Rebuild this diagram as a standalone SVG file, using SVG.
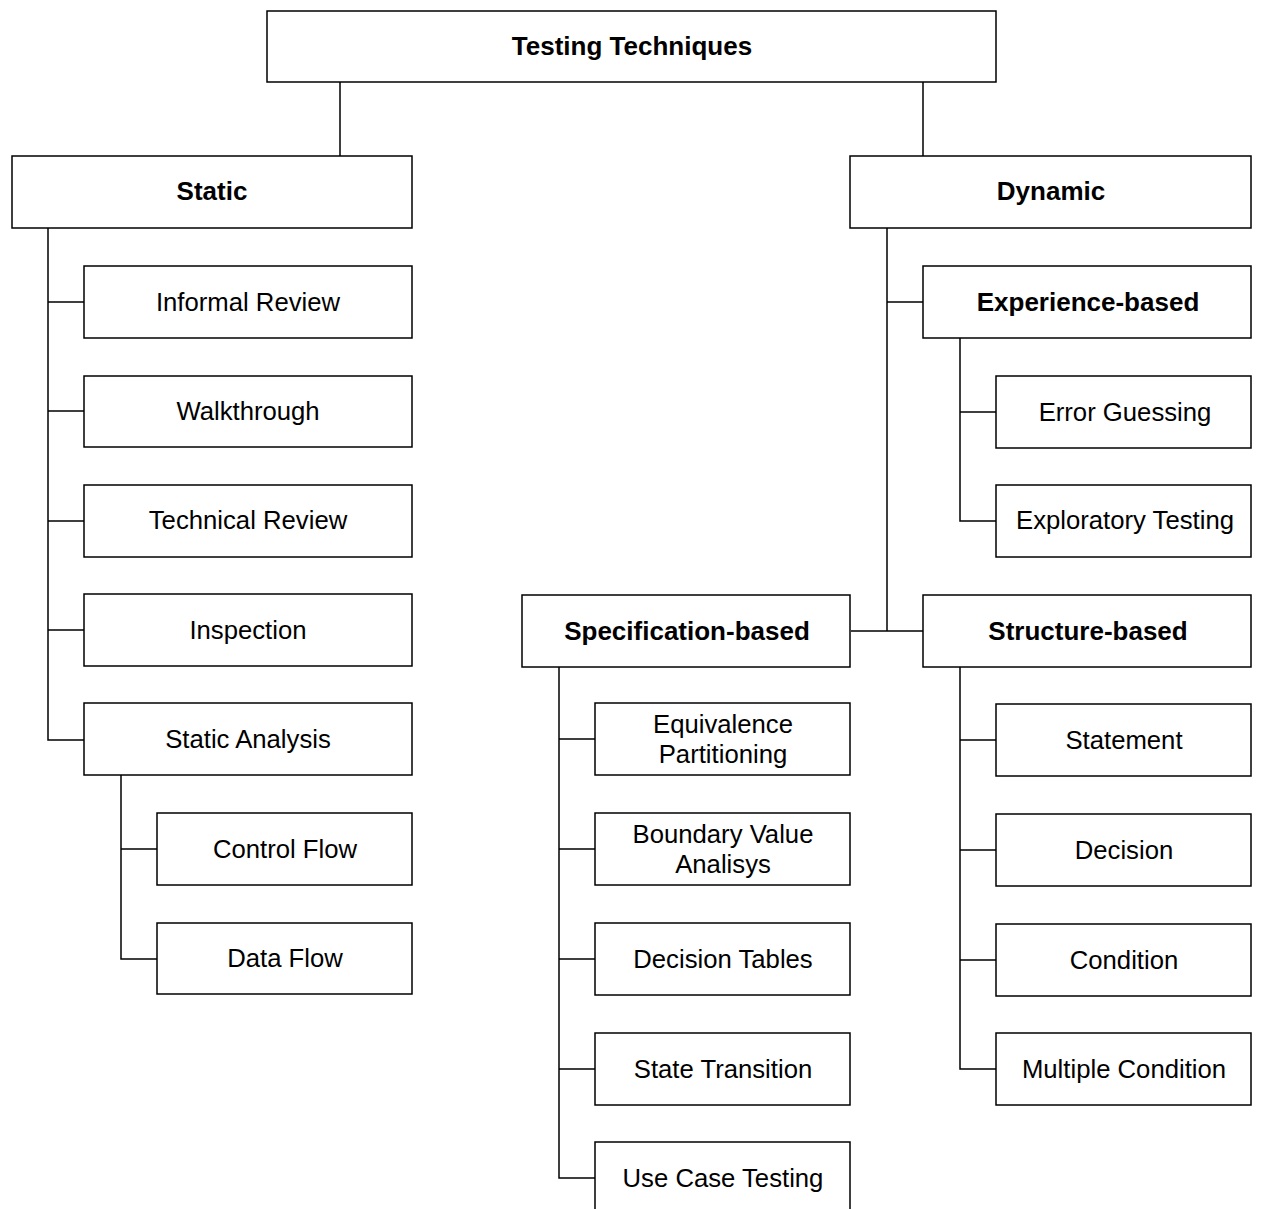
<svg xmlns="http://www.w3.org/2000/svg" width="1261" height="1209" viewBox="0 0 1261 1209">
<style>
rect{fill:#fff;stroke:#000;stroke-width:1.5}
text{font-family:"Liberation Sans",Arial,sans-serif;font-size:25.7px;fill:#000;text-anchor:middle;dominant-baseline:central}
.b{font-weight:bold;font-size:26px}
#connectors path{fill:none;stroke:#000;stroke-width:1.5}
</style>
<rect x="0" y="0" width="1261" height="1209" style="stroke:none"/>
<g id="connectors">
<path d="M340 82V156M923 82V156"/>
<path d="M48 228V740H84M48 302H84M48 411H84M48 521H84M48 630H84"/>
<path d="M121 775V959H157M121 849H157"/>
<path d="M887 228V631M887 302H923M851 631H923"/>
<path d="M960 338V521H996M960 412H996"/>
<path d="M559 667V1178H595M559 739H595M559 849H595M559 959H595M559 1069H595"/>
<path d="M960 667V1069H996M960 740H996M960 850H996M960 960H996"/>
</g>
<g id="n-root"><rect x="267" y="11" width="729" height="71"/><text class="b" x="632" y="45.5">Testing Techniques</text></g>
<g id="n-static"><rect x="12" y="156" width="400" height="72"/><text class="b" x="212" y="190.5">Static</text></g>
<g id="n-dynamic"><rect x="850" y="156" width="401" height="72"/><text class="b" x="1051" y="190.5">Dynamic</text></g>
<g id="n-informal"><rect x="84" y="266" width="328" height="72"/><text x="248" y="301.5">Informal Review</text></g>
<g id="n-walk"><rect x="84" y="376" width="328" height="71"/><text x="248" y="410.5">Walkthrough</text></g>
<g id="n-tech"><rect x="84" y="485" width="328" height="72"/><text x="248" y="519.5">Technical Review</text></g>
<g id="n-insp"><rect x="84" y="594" width="328" height="72"/><text x="248" y="629.5">Inspection</text></g>
<g id="n-sa"><rect x="84" y="703" width="328" height="72"/><text x="248" y="738.5">Static Analysis</text></g>
<g id="n-cf"><rect x="157" y="813" width="255" height="72"/><text x="285" y="848.5">Control Flow</text></g>
<g id="n-df"><rect x="157" y="923" width="255" height="71"/><text x="285" y="957.5">Data Flow</text></g>
<g id="n-exp"><rect x="923" y="266" width="328" height="72"/><text class="b" x="1088" y="301.5">Experience-based</text></g>
<g id="n-err"><rect x="996" y="376" width="255" height="72"/><text x="1125" y="411.5">Error Guessing</text></g>
<g id="n-explo"><rect x="996" y="485" width="255" height="72"/><text x="1125" y="519.5">Exploratory Testing</text></g>
<g id="n-spec"><rect x="522" y="595" width="328" height="72"/><text class="b" x="687" y="630.5">Specification-based</text></g>
<g id="n-struct"><rect x="923" y="595" width="328" height="72"/><text class="b" x="1088" y="630.5">Structure-based</text></g>
<g id="n-eq"><rect x="595" y="703" width="255" height="72"/><text x="723" y="723.5">Equivalence</text><text x="723" y="753.5">Partitioning</text></g>
<g id="n-bva"><rect x="595" y="813" width="255" height="72"/><text x="723" y="833.5">Boundary Value</text><text x="723" y="863.5">Analisys</text></g>
<g id="n-dt"><rect x="595" y="923" width="255" height="72"/><text x="723" y="958.5">Decision Tables</text></g>
<g id="n-st"><rect x="595" y="1033" width="255" height="72"/><text x="723" y="1068.5">State Transition</text></g>
<g id="n-uc"><rect x="595" y="1142" width="255" height="72"/><text x="723" y="1177.5">Use Case Testing</text></g>
<g id="n-stmt"><rect x="996" y="704" width="255" height="72"/><text x="1124" y="739.5">Statement</text></g>
<g id="n-dec"><rect x="996" y="814" width="255" height="72"/><text x="1124" y="849.5">Decision</text></g>
<g id="n-cond"><rect x="996" y="924" width="255" height="72"/><text x="1124" y="959.5">Condition</text></g>
<g id="n-mc"><rect x="996" y="1033" width="255" height="72"/><text x="1124" y="1068.5">Multiple Condition</text></g>
</svg>
